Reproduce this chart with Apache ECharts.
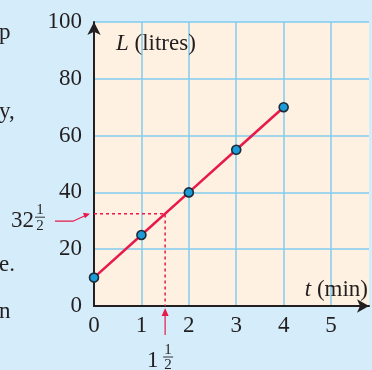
<!DOCTYPE html>
<html><head><meta charset="utf-8">
<style>html,body{margin:0;padding:0;background:#d5ecfa;overflow:hidden}#c{width:372px;height:370px;}</style>
<script src="https://cdn.jsdelivr.net/npm/echarts@6/dist/echarts.min.js"></script>
</head><body><div id="c"></div>
<script>
// ---- data ----
const tMinutes = [0, 1, 2, 3, 4];
const litres = [10, 25, 40, 55, 70];
const xTickValues = [0, 1, 2, 3, 4, 5];
const yTickValues = [0, 20, 40, 60, 80, 100];
const readT = 1.5;
const readL = 32.5;
const readTLabel = ['1', '1', '2'];   // whole, numerator, denominator
const readLLabel = ['32', '1', '2'];
const sideWords = ['p', 'y,', 'e.', 'n'];
const yAxisTitle = 'L';
const yAxisUnit = ' (litres)';
const xAxisTitle = 't';
const xAxisUnit = ' (min)';

const FONT = 'Liberation Serif';
const RED = '#e8194b';
const GRIDC = '#80cbee';
const AXC = '#231f20';
const FS = 23;

const chart = echarts.init(document.getElementById('c'), null, {renderer: 'canvas'});

const mainData = tMinutes.map((t, i) => [t, litres[i]]);
const guideData = [[0, readL], [readT, readL], [readT, 0]];

chart.setOption({
  backgroundColor: '#d5ecfa',
  animation: false,
  grid: {left: 94, top: 22, right: 0, bottom: 64, show: true, backgroundColor: '#fef1e1', borderWidth: 0},
  xAxis: {
    type: 'value', min: 0, max: 5.8, interval: 1,
    axisLine: {show: true, onZero: false, symbol: ['none', 'arrow'], symbolSize: [10, 12], lineStyle: {color: AXC, width: 2}},
    axisTick: {show: false},
    axisLabel: {margin: 8, color: '#231f20', fontFamily: FONT, fontSize: FS,
      formatter: v => xTickValues.includes(v) ? String(v) : ''},
    splitLine: {show: true, showMinLine: false, showMaxLine: false, lineStyle: {color: GRIDC, width: 1.5}}
  },
  yAxis: {
    type: 'value', min: 0, max: 100, interval: 20,
    axisLine: {show: true, onZero: false, symbol: ['none', 'arrow'], symbolSize: [10, 13], lineStyle: {color: AXC, width: 2}},
    axisTick: {show: false},
    axisLabel: {margin: 12, color: '#231f20', fontFamily: FONT, fontSize: FS,
      formatter: v => yTickValues.includes(v) ? String(v) : ''},
    splitLine: {show: true, showMinLine: false, lineStyle: {color: GRIDC, width: 1.5}}
  },
  series: [
    {type: 'line', data: guideData, showSymbol: false, silent: true, z: 2,
      lineStyle: {color: RED, width: 1.5, type: [3, 3]}},
    {type: 'line', data: mainData, z: 3, symbol: 'circle', symbolSize: 9,
      lineStyle: {color: RED, width: 2.5},
      itemStyle: {color: '#1b9bd7', borderColor: '#1d2b38', borderWidth: 1.6}}
  ]
});

function txt(x, y, s, size, align, extra) {
  return Object.assign({type: 'text', x: x, y: y, z: 10,
    style: {text: s, fill: '#231f20', font: size + 'px "' + FONT + '"', align: align || 'left', verticalAlign: 'middle'}}, extra || {});
}
function fraction(wholeRight, fracCx, barY, parts) {
  return [
    txt(wholeRight, barY + 4, parts[0], FS, 'right'),
    txt(fracCx, barY - 7, parts[1], 15, 'center'),
    {type: 'line', z: 10, shape: {x1: fracCx - 5, y1: barY, x2: fracCx + 5, y2: barY}, style: {stroke: '#231f20', lineWidth: 0.9}},
    txt(fracCx, barY + 8.5, parts[2], 15, 'center')
  ];
}

const pL = chart.convertToPixel({gridIndex: 0}, [0, readL]);
const pT = chart.convertToPixel({gridIndex: 0}, [readT, 0]);
const ax0 = pL[0], yL = pL[1], xT = pT[0], yAxisPx = pT[1];

const g = [];
// left cut-off words of surrounding text
[33, 112, 265, 312].forEach((yy, i) => g.push(txt(-1, yy, sideWords[i], FS, 'left')));
// axis titles
const rich = {i: {fontFamily: FONT, fontStyle: 'italic', fontSize: FS, fill: '#231f20'},
              n: {fontFamily: FONT, fontSize: FS, fill: '#231f20'}};
g.push({type: 'text', x: ax0 + 22, y: 44, z: 10, style: {
  text: '{i|' + yAxisTitle + '}{n|' + yAxisUnit + '}', verticalAlign: 'middle', rich: rich}});
g.push({type: 'text', x: 368, y: 290, z: 10, style: {
  text: '{i|' + xAxisTitle + '}{n|' + xAxisUnit + '}', align: 'right', verticalAlign: 'middle', rich: rich}});
// 32 1/2 arrow
g.push({type: 'polyline', z: 10, shape: {points: [[55, yL + 7.5], [73, yL + 7.5], [ax0 - 8, yL + 1.5]]}, style: {stroke: RED, lineWidth: 1.2, fill: null}});
g.push({type: 'polygon', z: 10, shape: {points: [[ax0 - 4, yL], [ax0 - 11, yL - 1], [ax0 - 9, yL + 4.5]]}, style: {fill: RED}});
fraction(34, 40, yL + 3.5, readLLabel).forEach(e => g.push(e));
// 1 1/2 arrow
g.push({type: 'line', z: 10, shape: {x1: xT, y1: yAxisPx + 29, x2: xT, y2: yAxisPx + 8}, style: {stroke: RED, lineWidth: 1.2}});
g.push({type: 'polygon', z: 10, shape: {points: [[xT, yAxisPx + 2], [xT - 3.5, yAxisPx + 10], [xT + 3.5, yAxisPx + 10]]}, style: {fill: RED}});
fraction(xT - 6.5, xT + 3, yAxisPx + 51, readTLabel).forEach(e => g.push(e));

chart.setOption({graphic: {elements: g}});
</script></body></html>
